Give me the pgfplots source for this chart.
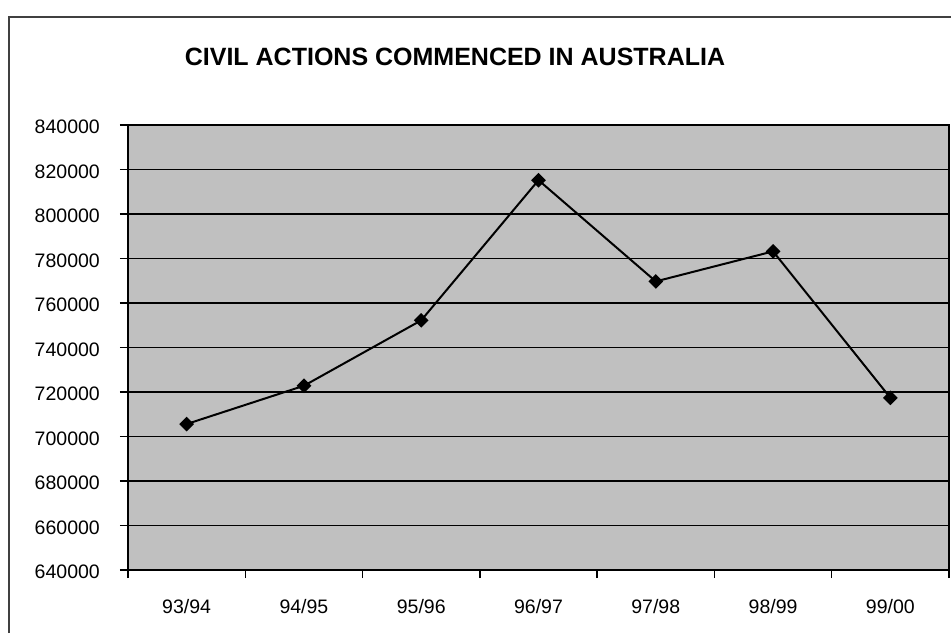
\documentclass[border=0pt]{standalone}
\usepackage{fontspec}
\setmainfont{Liberation Sans}
\usepackage{pgfplots}
\pgfplotsset{compat=1.18}
\definecolor{plotbg}{RGB}{192,192,192}
\begin{document}
\begin{tikzpicture}[x=1pt,y=1pt]
\useasboundingbox (0,0) rectangle (951,633);
\fill[white] (0,0) rectangle (951,633);
\draw[line width=2pt, black!75] (9,0) -- (9,616) -- (951,616);
\node[font=\fontsize{25}{30}\selectfont\bfseries] at (455,576) {CIVIL ACTIONS COMMENCED IN AUSTRALIA};
\begin{axis}[
  at={(128pt,63pt)}, anchor=south west, scale only axis,
  width=821pt, height=445pt,
  xmin=-0.5, xmax=6.5, ymin=640000, ymax=840000,
  axis background/.style={fill=plotbg},
  axis line style={black, line width=1.3pt},
  ytick={640000,660000,680000,700000,720000,740000,760000,780000,800000,820000,840000},
  scaled y ticks=false,
  /pgf/number format/assume math mode=true,
  yticklabel style={/pgf/number format/fixed, /pgf/number format/1000 sep={}, font=\fontsize{19.5}{22}\selectfont, inner sep=0pt, yshift=-2pt, xshift=-20pt},
  ymajorgrids, grid style={black, line width=1.2pt},
  xtick={0,1,2,3,4,5,6},
  xticklabels={93/94,94/95,95/96,96/97,97/98,98/99,99/00},
  xticklabel style={font=\fontsize{19.5}{22}\selectfont, inner sep=0pt, yshift=-21pt},
  minor xtick={-0.5,0.5,1.5,2.5,3.5,4.5,5.5,6.5},
  xmajorgrids=false,
  tick align=outside,
  major tick length=8pt, minor tick length=8pt,
  xtick style={draw=none},
  minor x tick style={draw=black, line width=1.3pt},
  ytick style={black, line width=1.3pt},
  tick pos=left,
  clip=false,
]
\addplot[black, line width=2pt, mark=square*, mark size=4.2pt, mark options={rotate=45, fill=black}]
  coordinates {(0,705600) (1,722800) (2,752200) (3,815200) (4,769700) (5,783200) (6,717400)};
\end{axis}
\end{tikzpicture}
\end{document}
